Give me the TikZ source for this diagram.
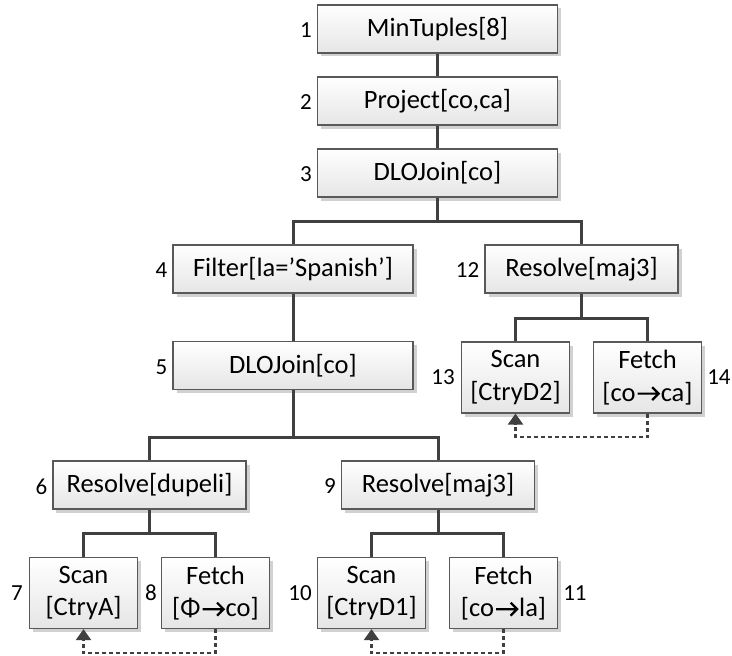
\documentclass[tikz,border=0pt]{standalone}
\usepackage{fontspec}
\setmainfont{Carlito}
\usetikzlibrary{arrows.meta,shadows}

\definecolor{edge}{HTML}{404040}
\definecolor{rim}{HTML}{595959}

\tikzset{
  opbox/.style={rectangle, draw=rim, line width=1.2bp, inner sep=0pt,
    top color=white, bottom color=black!10,
    drop shadow={shadow xshift=3.5bp, shadow yshift=-3.5bp, fill=black!18, opacity=1},
    font=\fontsize{26.5bp}{32.5bp}\selectfont, align=center},
  wide/.style={opbox, minimum width=240bp, minimum height=48bp},
  mid/.style={opbox, minimum width=193bp, minimum height=48bp},
  leaf/.style={opbox, minimum width=108bp, minimum height=71bp},
  lbl/.style={inner sep=0pt, font=\fontsize{23bp}{27bp}\selectfont},
  link/.style={draw=edge, line width=3bp},
  feed/.style={draw=edge, line width=2.4bp, dash pattern=on 4bp off 3bp,
    -{Triangle[width=15bp,length=11bp]}, shorten >=0pt}
}

% bold chevron arrow used inside the fetch labels
\newsavebox\fetcharrow
\newcommand{\rarr}{\hspace{1bp}\usebox\fetcharrow\hspace{1bp}}

\begin{document}
\sbox\fetcharrow{\begin{pgfpicture}
  \pgfsetbaseline{0pt}
  \pgfsetlinewidth{2.2bp}
  \pgfsetbuttcap
  \pgfsetmiterjoin
  \pgfsetstrokecolor{black}
  \pgfpathmoveto{\pgfpoint{0bp}{7.5bp}}
  \pgfpathlineto{\pgfpoint{20.5bp}{7.5bp}}
  \pgfpathmoveto{\pgfpoint{14.5bp}{14bp}}
  \pgfpathlineto{\pgfpoint{21bp}{7.5bp}}
  \pgfpathlineto{\pgfpoint{14.5bp}{1bp}}
  \pgfusepath{stroke}
\end{pgfpicture}}
\begin{tikzpicture}[x=1bp, y=-1bp]
\useasboundingbox (0,0) rectangle (732,656);

% operator boxes
\node[wide] (b1) at (437.5,29) {MinTuples[8]};
\node[wide] (b2) at (437.5,101) {Project[co,ca]};
\node[wide] (b3) at (437.5,173) {DLOJoin[co]};
\node[wide] (b4) at (293,269) {Filter[la=’Spanish’]};
\node[wide] (b5) at (293,365.5) {DLOJoin[co]};
\node[mid]  (b12) at (581.5,269) {Resolve[maj3]};
\node[leaf] (b13) at (515.5,377.5) {Scan\\{}[CtryD2]};
\node[leaf] (b14) at (647.5,377.5) {Fetch\\{}[co\rarr ca]};
\node[mid]  (b6) at (149.5,485) {Resolve[dupeli]};
\node[mid]  (b9) at (438,485) {Resolve[maj3]};
\node[leaf] (b7) at (83.5,593) {Scan\\{}[CtryA]};
\node[leaf] (b8) at (215.5,593) {Fetch\\{}[Φ\rarr co]};
\node[leaf] (b10) at (371.5,593) {Scan\\{}[CtryD1]};
\node[leaf] (b11) at (503.5,593) {Fetch\\{}[co\rarr la]};

% step numbers
\node[lbl, anchor=east] at ([xshift=-5bp, yshift=-1.5bp]b1.west) {1};
\node[lbl, anchor=east] at ([xshift=-5bp, yshift=-1.5bp]b2.west) {2};
\node[lbl, anchor=east] at ([xshift=-5bp, yshift=-1.5bp]b3.west) {3};
\node[lbl, anchor=east] at ([xshift=-5bp, yshift=-1.5bp]b4.west) {4};
\node[lbl, anchor=east] at ([xshift=-5bp, yshift=-1.5bp]b5.west) {5};
\node[lbl, anchor=east] at ([xshift=-5bp, yshift=-1.5bp]b12.west) {12};
\node[lbl, anchor=east] at ([xshift=-6bp]b13.west) {13};
\node[lbl, anchor=west] at ([xshift=5bp]b14.east) {14};
\node[lbl, anchor=east] at ([xshift=-5bp, yshift=-1.5bp]b6.west) {6};
\node[lbl, anchor=east] at ([xshift=-5bp, yshift=-1.5bp]b9.west) {9};
\node[lbl, anchor=east] at ([xshift=-6bp]b7.west) {7};
\node[lbl, anchor=east] at ([xshift=-4bp]b8.west) {8};
\node[lbl, anchor=east] at ([xshift=-5bp]b10.west) {10};
\node[lbl, anchor=west] at ([xshift=5bp]b11.east) {11};

% junction points of the tree
\coordinate (j3) at (437.5,221);
\coordinate (j12) at (581.5,318);
\coordinate (j5) at (293,437);
\coordinate (j6) at (149.5,533);
\coordinate (j9) at (438,533);

% tree edges
\draw[link] (b1) -- (b2);
\draw[link] (b2) -- (b3);
\draw[link] (b3.south) -- (j3);
\draw[link] (b4.north) |- (j3) -| (b12.north);
\draw[link] (b4) -- (b5);
\draw[link] (b12.south) -- (j12);
\draw[link] (b13.north) |- (j12) -| (b14.north);
\draw[link] (b5.south) -- (j5);
\draw[link] (b6.north) |- (j5) -| (b9.north);
\draw[link] (b6.south) -- (j6);
\draw[link] (b7.north) |- (j6) -| (b8.north);
\draw[link] (b9.south) -- (j9);
\draw[link] (b10.north) |- (j9) -| (b11.north);

% fetch-to-scan feedback
\coordinate (f14) at (647.5,437);
\coordinate (f8) at (215.5,653);
\coordinate (f11) at (503.5,653);
\draw[feed] (b14.south) -- (f14) -| (b13.south);
\draw[feed] (b8.south) -- (f8) -| (b7.south);
\draw[feed] (b11.south) -- (f11) -| (b10.south);
\end{tikzpicture}
\end{document}
